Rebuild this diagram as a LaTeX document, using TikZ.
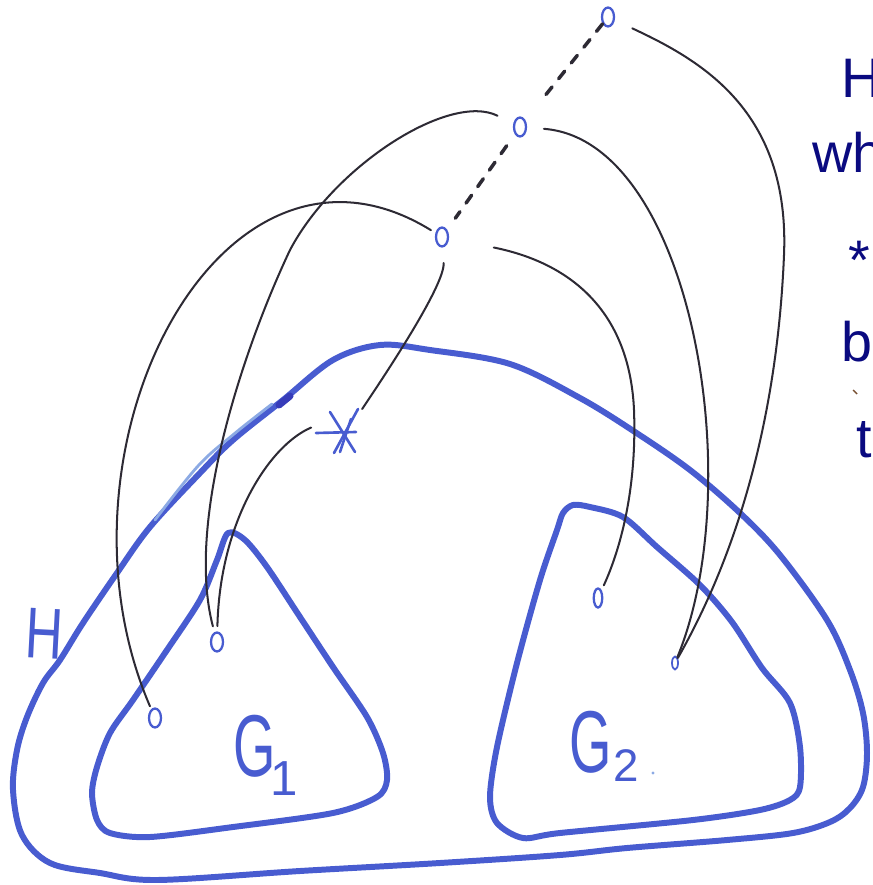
\documentclass[tikz,border=0pt]{standalone}
\usepackage{fontspec}
\setmainfont{Liberation Sans}
\usetikzlibrary{shapes.geometric}
\definecolor{pen}{RGB}{72,92,208}
\definecolor{pendark}{RGB}{55,60,185}
\definecolor{penlight}{RGB}{140,170,228}
\definecolor{ink}{RGB}{45,42,52}
\definecolor{navy}{RGB}{10,10,128}
\definecolor{tick}{RGB}{120,80,50}
\begin{document}
\begin{tikzpicture}[x=0.02cm,y=-0.02cm,
  outline/.style={draw=pen, line width=3.4pt, line cap=round, line join=round},
  conn/.style={draw=ink, line width=1.15pt, line cap=round},
  dashlink/.style={draw=ink, line width=2pt, dash pattern=on 5.5pt off 6pt, line cap=round},
  vtx/.style={ellipse, draw=pen, line width=1.3pt, minimum width=0.24cm, minimum height=0.38cm, inner sep=0pt},
  starstroke/.style={draw=pen, line width=1.5pt, line cap=round},
  lbl/.style={text=pen, inner sep=0pt},
  side/.style={text=navy, inner sep=0pt, anchor=base west, font=\fontsize{31.7}{38}\selectfont}]
\useasboundingbox (0,0) rectangle (872,885);
\clip (0,0) rectangle (872,885);

% outer region H
\draw[outline] plot[smooth cycle, tension=0.55] coordinates {
 (380,345) (430,350) (510,364) (580,398) (635,432) (690,470) (740,513)
 (780,555) (827,620) (850,670) (863,713) (867,753) (863,787) (850,808)
 (830,822) (793,833) (727,840) (627,848) (560,855) (440,863) (300,871)
 (157,880) (100,873) (50,863) (22,835) (13,790) (17,750) (27,717)
 (43,683) (60,660) (83,623) (117,573) (150,527) (200,473) (233,440)
 (283,400) (333,360)};
\draw[draw=penlight, line width=1.6pt, line cap=round] plot[smooth, tension=0.6] coordinates {
 (155,520) (198,466) (234,434) (272,404)};
\draw[draw=pendark, line width=4pt, line cap=round] (279,405) -- (290,396);

% G1
\draw[outline] plot[smooth cycle, tension=0.5] coordinates {
 (228,533) (245,540) (267,567) (300,617) (333,667) (367,717) (383,753)
 (387,780) (377,797) (333,813) (233,827) (150,837) (110,833) (97,820)
 (92,793) (97,767) (110,733) (133,700) (167,650) (200,600) (217,560)};

% G2
\draw[outline] plot[smooth cycle, tension=0.5] coordinates {
 (573,505) (590,507) (623,517) (657,547) (700,585) (732,622) (762,668)
 (790,703) (800,747) (800,787) (790,800) (760,810) (693,820) (560,833)
 (523,838) (497,823) (490,797) (497,747) (517,663) (540,580) (557,530)
 (563,513)};

% vertices
\node[vtx] (v1) at (608,17) {};
\node[vtx] (v2) at (520,127) {};
\node[vtx] (v3) at (442,237) {};
\node[vtx] (a) at (217,642) {};
\node[vtx] (b) at (155,718) {};
\node[vtx, minimum width=0.17cm] (c) at (598,598) {};
\node[vtx, minimum width=0.12cm, minimum height=0.26cm, line width=1pt] (d) at (675,663) {};
\node[circle, minimum size=1.24cm, inner sep=0pt] (star) at (342,433) {};
\draw[starstroke] ([shift={(-12,-21)}]star.center) -- ([shift={(13,19)}]star.center);
\draw[starstroke] ([shift={(16,-24)}]star.center) -- ([shift={(-8,20)}]star.center);
\draw[starstroke] ([shift={(-26,0)}]star.center) -- ([shift={(14,-1)}]star.center);
\draw[starstroke] ([shift={(9,-14)}]star.center) -- ([shift={(-2,19)}]star.center);

% dashed path of vertices
\draw[dashlink, shorten >=13.6pt] (v1) -- (v2);
\draw[dashlink, shorten <=8pt, shorten >=8pt] (v2) -- (v3);

% connectors
\draw[conn, shorten <=11pt] (v1) .. controls (700,60) and (790,110) .. (784,255)
  .. controls (778,400) and (745,540) .. (d);
\draw[conn, shorten <=9.6pt] (v2) .. controls (690,140) and (750,480) .. (d);
\draw[conn, shorten <=26pt, shorten >=3pt] (v3) .. controls (580,265) and (630,320) .. (634,410)
  .. controls (637,490) and (620,550) .. (c);
\draw[conn, shorten <=10pt, shorten >=3.4pt] (v2) .. controls (450,92) and (335,165) .. (290,250)
  .. controls (245,345) and (185,520) .. (a);
\draw[conn, shorten <=3pt, shorten >=1.7pt] (v3) .. controls (220,100) and (40,450) .. (b);
\draw[conn, shorten <=8.8pt] (v3) .. controls (445,285) and (385,375) .. (star.50);
\draw[conn, shorten >=3pt] (star.170) .. controls (270,445) and (220,520) .. (a);

% handwritten labels
\node[lbl, font=\fontsize{41}{41}\selectfont, rotate=-3] (hlab) at (44,634) {\scalebox{0.72}[1]{H}};
\node[lbl, anchor=base west, font=\fontsize{50}{50}\selectfont] (g1) at (233,776)
  {\scalebox{0.62}[1]{G}\kern-3pt\raisebox{-11pt}{\fontsize{28}{28}\selectfont 1}};
\node[lbl, anchor=base west, font=\fontsize{50}{50}\selectfont] (g2) at (569,772)
  {\scalebox{0.62}[1]{G}\kern1pt\raisebox{-5.5pt}{\fontsize{26}{26}\selectfont 2}};
\fill[penlight] (653,773) circle (1.6);

% right-hand text (cut by the edge, as in the reference)
\node[side] (t1) at (841,98) {H};
\node[side] (t2) at (812,173) {wh};
\node[side] (t3) at (848,279) {*};
\node[side] (t4) at (841,361) {b};
\node[side] (t5) at (856,457) {t};
\draw[draw=tick, line width=0.8pt] (853,390) -- (857,394);
\end{tikzpicture}
\end{document}
